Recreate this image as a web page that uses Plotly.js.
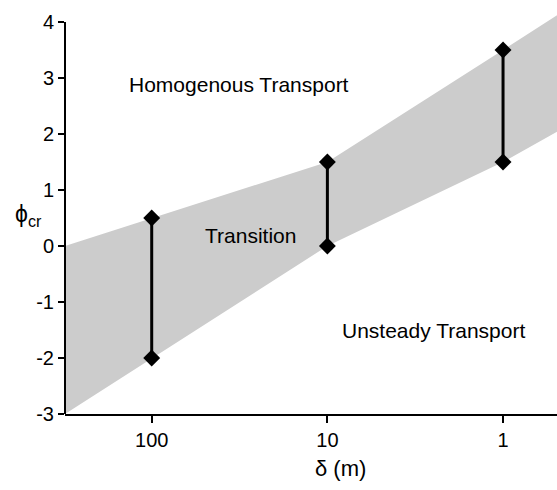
<!DOCTYPE html>
<html>
<head>
<meta charset="utf-8">
<script src="https://cdn.plot.ly/plotly-3.0.1.min.js"></script>
<style>html,body{margin:0;padding:0;background:#fff;}</style>
</head>
<body>
<div id="chart" style="width:557px;height:490px;"></div>
<script>
// Data
var deltas = [100, 10, 1];
var phiUpper = [0.5, 1.5, 3.5];
var phiLower = [-2, 0, 1.5];
// Transition band boundaries (including plot-edge extents)
var bandX = [311.6, 100, 10, 1, 0.493];
var bandUpper = [0, 0.5, 1.5, 3.5, 4.12];
var bandLower = [-3, -2, 0, 1.5, 2.04];
var xTickVals = [100, 10, 1];
var xTickText = ['100', '10', '1'];
var yTickVals = [-3, -2, -1, 0, 1, 2, 3, 4];
var yTickText = ['-3', '-2', '-1', '0', '1', '2', '3', '4'];
var labels = [
  {text: 'Homogenous Transport', x: 32, y: 2.88},
  {text: 'Transition', x: 27.4, y: 0.18},
  {text: 'Unsteady Transport', x: 2.5, y: -1.5}
];

var traces = [];
traces.push({
  x: bandX.concat(bandX.slice().reverse()),
  y: bandUpper.concat(bandLower.slice().reverse()),
  type: 'scatter', mode: 'lines', fill: 'toself',
  fillcolor: 'rgb(204,204,204)', line: {width: 0, color: 'rgba(0,0,0,0)'},
  hoverinfo: 'skip', showlegend: false
});
for (var i = 0; i < deltas.length; i++) {
  traces.push({
    x: [deltas[i], deltas[i]],
    y: [phiLower[i], phiUpper[i]],
    type: 'scatter', mode: 'lines+markers',
    line: {color: '#000', width: 3},
    marker: {symbol: 'diamond', size: 13, color: '#000'},
    cliponaxis: false, showlegend: false
  });
}

var fam = 'Arial, "Liberation Sans", sans-serif';
var tickFont = {family: fam, size: 20, color: '#000'};
var labelFont = {family: fam, size: 21, color: '#000'};
var annotations = labels.map(function (l) {
  return {text: l.text, x: Math.log10(l.x), y: l.y, xref: 'x', yref: 'y',
    showarrow: false, font: labelFont, xanchor: 'center', yanchor: 'middle'};
});
annotations.push({text: 'ϕ<sub>cr</sub>', x: 0, xshift: -37, y: 0.55, xref: 'paper', yref: 'y',
  xanchor: 'center', yanchor: 'middle', showarrow: false, font: {family: fam, size: 23, color: '#000'}});
annotations.push({text: 'δ (m)', x: Math.log10(10), y: -3, xref: 'x', yref: 'y',
  xshift: 13, yshift: -54, xanchor: 'center', yanchor: 'middle', showarrow: false, font: {family: fam, size: 22, color: '#000'}});

var layout = {
  width: 557, height: 490,
  margin: {l: 65, r: 0, t: 10, b: 76},
  paper_bgcolor: '#fff', plot_bgcolor: '#fff',
  font: tickFont,
  showlegend: false,
  xaxis: {
    type: 'log', range: [Math.log10(311.6), Math.log10(0.493)],
    tickvals: xTickVals, ticktext: xTickText,
    ticks: 'outside', ticklen: 7, tickwidth: 2, tickcolor: '#000',
    showline: true, linewidth: 2, linecolor: '#000',
    showgrid: false, zeroline: false, tickfont: tickFont
  },
  yaxis: {
    range: [-3, 4.214],
    tickvals: yTickVals, ticktext: yTickText,
    ticks: 'outside', ticklen: 6, tickwidth: 2, tickcolor: '#000',
    showline: false, showgrid: false, zeroline: false, tickfont: tickFont
  },
  shapes: [{type: 'line', xref: 'paper', yref: 'y', x0: 0, x1: 0, y0: -3, y1: 4,
    line: {color: '#000', width: 2}}],
  annotations: annotations
};
Plotly.newPlot('chart', traces, layout, {staticPlot: true});
</script>
</body>
</html>
